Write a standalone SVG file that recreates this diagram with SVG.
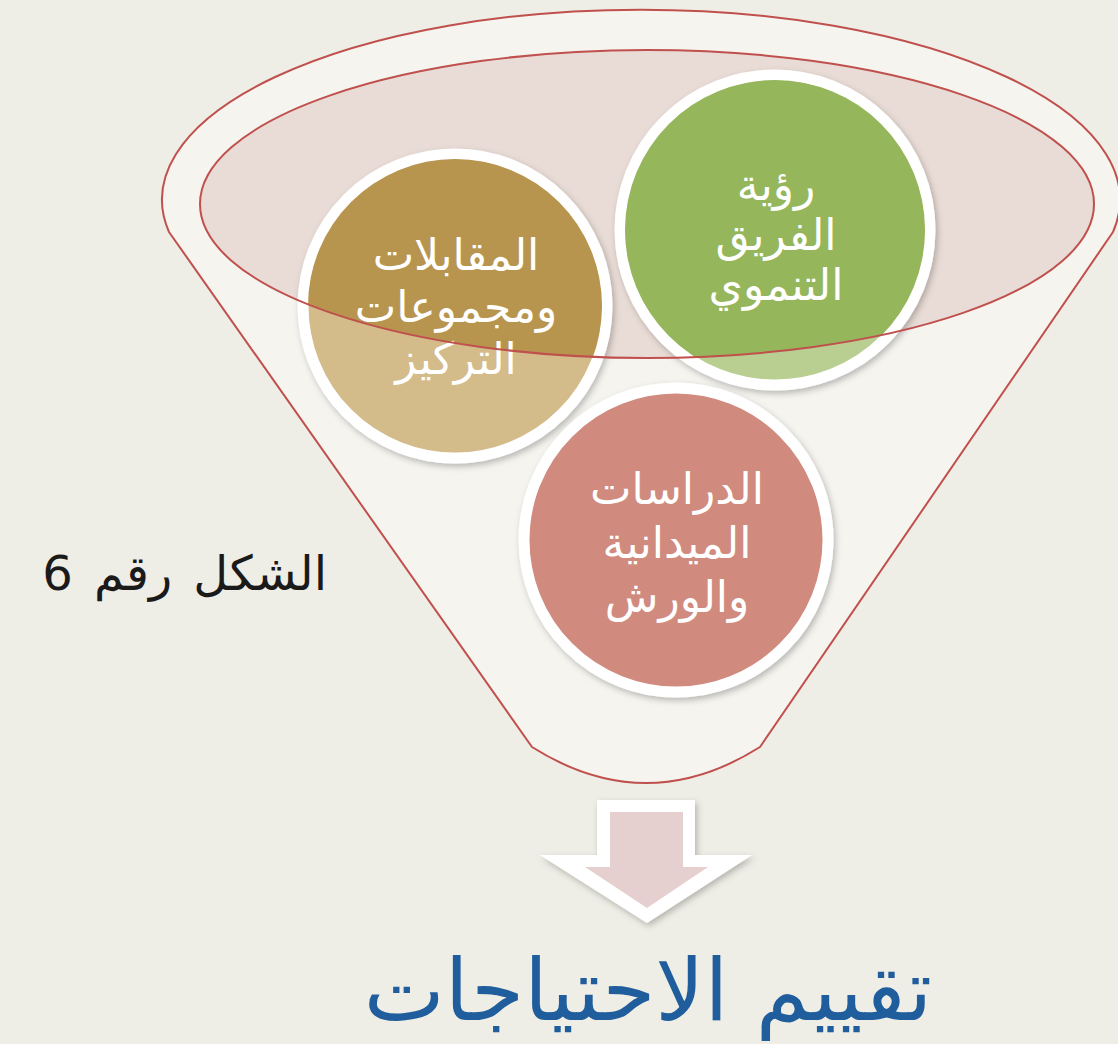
<svg xmlns="http://www.w3.org/2000/svg" width="1118" height="1044" viewBox="0 0 1118 1044">
<style>
.lbl{font-family:"DejaVu Sans","Noto Sans",sans-serif;fill:#ffffff;font-size:44px;text-anchor:middle;direction:rtl}
.ring{stroke:#ffffff;stroke-width:11}
</style>
<defs>
<clipPath id="inEl"><ellipse cx="647" cy="204" rx="447" ry="154"/></clipPath>
<filter id="sh" x="-20%" y="-20%" width="140%" height="140%"><feDropShadow dx="2" dy="3" stdDeviation="3" flood-color="#000" flood-opacity="0.25"/></filter>
</defs>
<rect width="1118" height="1044" fill="#efeee6"/>
<g id="funnel">
<path d="M 169,232 A 479,190 0 1 1 1113,232 L 760,747 Q 646,819 532,747 Z" fill="#f5f4ef" stroke="#c0504d" stroke-width="2" stroke-linejoin="round"/>
<ellipse cx="647" cy="204" rx="447" ry="154" fill="#e9dcd6"/>
</g>
<g id="node-brown">
<circle cx="455" cy="306" r="152" fill="#d3bb8a" class="ring" filter="url(#sh)"/>
<circle cx="455" cy="306" r="147" fill="#b8954e" clip-path="url(#inEl)"/>
<text class="lbl" x="456" y="270">المقابلات</text>
<text class="lbl" x="456" y="322">ومجموعات</text>
<text class="lbl" x="456" y="374">التركيز</text>
</g>
<g id="node-green">
<circle cx="775" cy="230" r="155" fill="#b9cf92" class="ring" filter="url(#sh)"/>
<circle cx="775" cy="230" r="150" fill="#95b65a" clip-path="url(#inEl)"/>
<text class="lbl" x="776" y="200">رؤية</text>
<text class="lbl" x="776" y="250">الفريق</text>
<text class="lbl" x="776" y="300">التنموي</text>
</g>
<g id="node-pink">
<circle cx="676" cy="540" r="152" fill="#d08a7e" class="ring" filter="url(#sh)"/>
<text class="lbl" x="677" y="504">الدراسات</text>
<text class="lbl" x="677" y="558">الميدانية</text>
<text class="lbl" x="677" y="612">والورش</text>
</g>
<g id="connectors">
<ellipse cx="647" cy="204" rx="447" ry="154" fill="none" stroke="#c0504d" stroke-width="2"/>
<g id="arrow" filter="url(#sh)">
<polygon points="597,800 695,800 695,855 752,855 647,923 540,855 597,855" fill="#ffffff"/>
<polygon points="610,812 683,812 683,867 708,867 647,908 585,867 610,867" fill="#e6cfcf"/>
</g>
</g>
<text id="fig-label" x="327" y="590" font-family="DejaVu Sans, sans-serif" font-size="48" word-spacing="6" fill="#1a1a1a" text-anchor="start" direction="rtl">الشكل رقم 6</text>
<text id="title" x="648" y="1020" font-family="DejaVu Sans, sans-serif" font-size="86" fill="#1f5d9c" text-anchor="middle" direction="rtl">تقييم الاحتياجات</text>
</svg>
